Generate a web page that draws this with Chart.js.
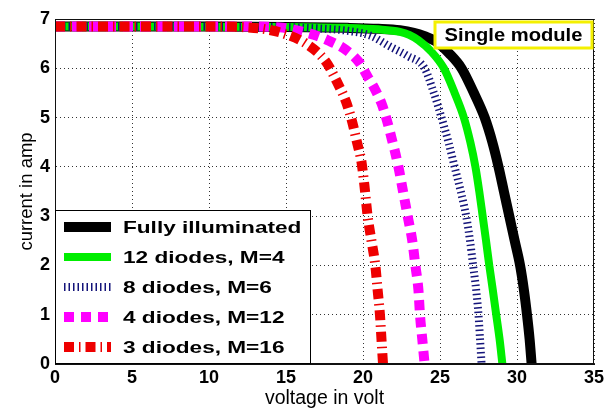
<!DOCTYPE html>
<html><head><meta charset="utf-8">
<script src="https://cdn.jsdelivr.net/npm/chart.js@4"></script>
<style>html,body{margin:0;padding:0;background:#fff}</style>
</head><body>
<canvas id="c" width="616" height="410"></canvas>
<script>
// ---- data ----
const seriesLabels = ['Fully illuminated', '12 diodes, M=4', '8 diodes, M=6', '4 diodes, M=12', '3 diodes, M=16'];

const voltsFull = [0, 10, 15, 19, 21, 22.4, 23.3, 24.0, 24.7, 25.6, 26.4, 27.2, 27.9, 28.4, 28.8, 29.15, 29.5, 29.85, 30.2, 30.45, 30.65, 30.82, 30.95];
const ampsFull  = [6.85, 6.85, 6.84, 6.82, 6.8, 6.77, 6.72, 6.65, 6.55, 6.3, 6.0, 5.5, 5.0, 4.5, 4.0, 3.5, 3.0, 2.5, 2.0, 1.5, 1.0, 0.5, 0];

const volts12 = [0, 15, 19, 21, 22.4, 23.0, 23.6, 24.4, 25.25, 25.95, 26.55, 26.97, 27.3, 27.55, 27.77, 27.99, 28.2, 28.43, 28.65, 28.87, 29.05];
const amps12  = [6.85, 6.84, 6.82, 6.79, 6.74, 6.68, 6.57, 6.35, 6.0, 5.5, 5.0, 4.5, 4.0, 3.5, 3.0, 2.5, 2.0, 1.5, 1.0, 0.5, 0];

const volts8 = [0, 14, 17, 19, 20.5, 21.7, 22.9, 24.0, 24.6, 25.1, 25.55, 25.95, 26.35, 26.7, 26.95, 27.15, 27.35, 27.5, 27.6, 27.7];
const amps8  = [6.85, 6.84, 6.81, 6.76, 6.66, 6.45, 6.25, 6.0, 5.5, 5.0, 4.5, 4.0, 3.5, 3.0, 2.5, 2.0, 1.5, 1.0, 0.5, 0];

const volts4 = [0, 12, 14.6, 15.7, 16.8, 17.7, 18.9, 19.8, 20.3, 20.8, 21.2, 21.5, 21.8, 22.3, 22.6, 22.9, 23.2, 23.4, 23.6, 23.7, 23.85, 24.0];
const amps4  = [6.85, 6.85, 6.83, 6.77, 6.68, 6.57, 6.37, 6.1, 5.83, 5.56, 5.29, 5.0, 4.65, 4.0, 3.5, 3.0, 2.5, 2.0, 1.5, 1.0, 0.5, 0];

const volts3 = [0, 10, 12.5, 13.5, 14.8, 16.3, 17.6, 18.3, 18.9, 19.3, 19.6, 19.9, 20.1, 20.3, 20.55, 20.8, 20.95, 21.1, 21.2, 21.3];
const amps3  = [6.85, 6.85, 6.83, 6.8, 6.71, 6.5, 6.13, 5.73, 5.32, 4.91, 4.51, 4.1, 3.6, 3.0, 2.5, 2.0, 1.5, 1.0, 0.5, 0];

const xTicks = [0, 5, 10, 15, 20, 25, 30, 35];
const yTicks = [0, 1, 2, 3, 4, 5, 6, 7];
const xTitle = 'voltage in volt';
const yTitle = 'current in amp';
const noteText = 'Single module';

// ---- build datasets ----
const pts = (xs, ys) => xs.map((v, i) => ({x: v, y: ys[i]}));
const styles = [
  {borderColor: '#000000', borderWidth: 10, borderDash: [], order: 5},
  {borderColor: '#00ee00', borderWidth: 8,  borderDash: [], order: 4},
  {borderColor: '#14147a', borderWidth: 8,  borderDash: [1.5, 3], order: 3},
  {borderColor: '#ff00ff', borderWidth: 10, borderDash: [10, 7], order: 2},
  {borderColor: '#ee0000', borderWidth: 10, borderDash: [10, 5, 1.5, 5], order: 1}
];
const seriesData = [
  pts(voltsFull, ampsFull), pts(volts12, amps12), pts(volts8, amps8), pts(volts4, amps4), pts(volts3, amps3)
];
const datasets = seriesData.map((d, i) => Object.assign({
  label: seriesLabels[i], data: d, pointRadius: 0, fill: false,
  cubicInterpolationMode: 'monotone',
  borderCapStyle: 'butt', borderJoinStyle: 'round', clip: 0
}, styles[i]));

const FONT = 'Arial, "Liberation Sans", sans-serif';

const framePlugin = {
  id: 'frame',
  afterDatasetsDraw(chart) {
    const {ctx, chartArea: a} = chart;
    ctx.save();
    ctx.strokeStyle = '#111'; ctx.lineWidth = 1; ctx.setLineDash([]);
    ctx.strokeRect(Math.round(a.left) + 0.5, Math.round(a.top) + 0.5, Math.round(a.right - a.left) - 1, Math.round(a.bottom - a.top) - 1);

    // legend box inside the plot, bottom-left
    const bw = 256, bh = 154;
    const bx = Math.round(a.left), by = Math.round(a.bottom) - bh;
    ctx.fillStyle = '#fff'; ctx.fillRect(bx, by, bw, bh);
    ctx.strokeStyle = '#000'; ctx.strokeRect(bx + 0.5, by + 0.5, bw - 1, bh - 1);
    chart.data.datasets.forEach((ds, i) => {
      const y = by + 17 + i * 30;
      ctx.beginPath();
      ctx.lineWidth = ds.borderWidth; ctx.strokeStyle = ds.borderColor;
      ctx.setLineDash(ds.borderDash || []); ctx.lineCap = 'butt';
      ctx.moveTo(bx + 9, y); ctx.lineTo(bx + 56, y); ctx.stroke();
      ctx.setLineDash([]);
      ctx.save();
      ctx.translate(bx + 68, y + 1); ctx.scale(1.33, 1);
      ctx.font = 'bold 17px ' + FONT; ctx.fillStyle = '#000';
      ctx.textBaseline = 'middle'; ctx.textAlign = 'left';
      ctx.fillText(ds.label, 0, 0);
      ctx.restore();
    });

    // "Single module" note, top-right
    const nw = 157, nh = 26;
    const nx = Math.round(a.right) - 2 - nw, ny = Math.round(a.top) + 3;
    ctx.fillStyle = '#fff'; ctx.fillRect(nx, ny, nw, nh);
    ctx.strokeStyle = '#f4f000'; ctx.lineWidth = 3; ctx.strokeRect(nx, ny, nw, nh);
    ctx.save();
    ctx.translate(nx + nw / 2, ny + nh / 2 + 1); ctx.scale(1.12, 1);
    ctx.font = 'bold 18px ' + FONT; ctx.fillStyle = '#000';
    ctx.textAlign = 'center'; ctx.textBaseline = 'middle';
    ctx.fillText(noteText, 0, 0);
    ctx.restore();
    ctx.restore();
  }
};

new Chart(document.getElementById('c'), {
  type: 'line',
  data: {datasets},
  plugins: [framePlugin],
  options: {
    responsive: false, animation: false, devicePixelRatio: 1,
    layout: {padding: {left: 0, top: 19, right: 22, bottom: 0}},
    plugins: {legend: {display: false}, tooltip: {enabled: false}},
    scales: {
      x: {
        type: 'linear', min: 0, max: 35,
        afterBuildTicks: s => { s.ticks = xTicks.map(v => ({value: v})); },
        afterFit: s => { s.height = 46; },
        grid: {color: '#333', lineWidth: 1, drawTicks: false},
        border: {display: true, color: '#111', width: 1, dash: [1, 3]},
        ticks: {color: '#000', padding: 3, font: {family: FONT, size: 18, weight: 'bold'}, maxRotation: 0},
        title: {display: true, text: xTitle, color: '#000', padding: {top: 0, bottom: 0}, font: {family: FONT, size: 19.5}}
      },
      y: {
        type: 'linear', min: 0, max: 7,
        afterBuildTicks: s => { s.ticks = yTicks.map(v => ({value: v})); },
        afterFit: s => { s.width = 55; },
        grid: {color: '#333', lineWidth: 1, drawTicks: false},
        border: {display: true, color: '#111', width: 1, dash: [1, 3]},
        ticks: {color: '#000', padding: 5, font: {family: FONT, size: 18, weight: 'bold'}},
        title: {display: true, text: yTitle, color: '#000', padding: {top: 16, bottom: 0}, font: {family: FONT, size: 18.5}}
      }
    }
  }
});
</script>
</body></html>
